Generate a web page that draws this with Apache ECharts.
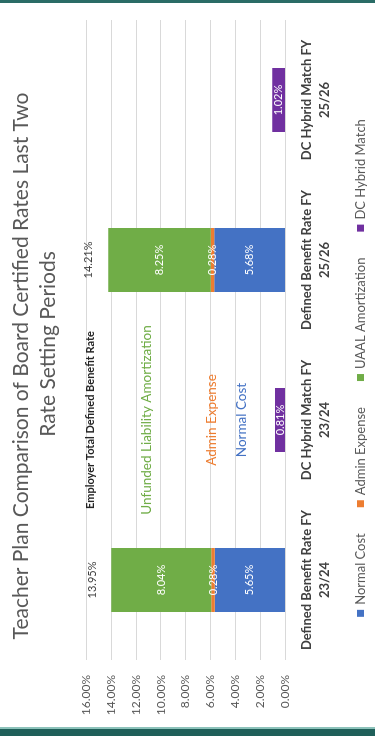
<!DOCTYPE html>
<html>
<head>
<meta charset="utf-8">
<script src="https://cdn.jsdelivr.net/npm/echarts@6/dist/echarts.min.js"></script>
<style>
  html, body { margin: 0; padding: 0; width: 375px; height: 736px; overflow: hidden; background: #ffffff; }
  #chart {
    position: absolute; left: 0; top: 0;
    width: 736px; height: 375px;
    transform-origin: 0 0;
    transform: translateY(736px) rotate(-90deg);
  }
  .band-top { position: absolute; left: 0; top: 0; width: 375px; height: 3px; background: #2a6c66; }
  .band-bottom-line { position: absolute; left: 0; top: 727px; width: 375px; height: 2px; background: #8cc2ba; }
  .band-bottom { position: absolute; left: 0; top: 729px; width: 375px; height: 7px; background: #1f5f59; }
</style>
</head>
<body>
<div id="chart"></div>
<div class="band-top"></div>
<div class="band-bottom-line"></div>
<div class="band-bottom"></div>
<script>
// Board certified employer contribution rates (percent of payroll)
const categories = [
  'Defined Benefit Rate FY\n23/24',
  'DC Hybrid Match FY\n23/24',
  'Defined Benefit Rate FY\n25/26',
  'DC Hybrid Match FY\n25/26'
];
const normalCost       = [5.65, null, 5.68, null];
const adminExpense     = [0.28, null, 0.28, null];
const uaalAmortization = [8.04, null, 8.25, null];
const dcHybridMatch    = [null, 0.81, null, 1.02];
const employerTotal    = [13.95, null, 14.21, null];

const seriesNames = ['Normal Cost', 'Admin Expense', 'UAAL Amortization', 'DC Hybrid Match'];
const titleLines = ['Teacher Plan Comparison of Board Certified Rates Last Two', 'Rate Setting Periods'];
const valueAxisMin = 0;
const valueAxisMax = 16;
const valueAxisStep = 2;

const FONT = 'Lato, "Open Sans", sans-serif';
const COLORS = ['#4472C4', '#ED7D31', '#70AD47', '#7030A0'];

const pct = v => (v == null ? '' : v.toFixed(2) + '%');

const chart = echarts.init(document.getElementById('chart'), null, { renderer: 'canvas' });

function stackSeries(name, data, color) {
  return {
    name: name,
    type: 'bar',
    stack: 'rate',
    barWidth: '40%',
    barGap: '-100%',
    data: data,
    itemStyle: { color: color },
    label: {
      show: true,
      position: 'inside',
      color: '#ffffff',
      fontFamily: FONT,
      fontSize: 11,
      formatter: p => pct(p.value)
    }
  };
}

chart.setOption({
  backgroundColor: '#ffffff',
  animation: false,
  color: COLORS,
  legend: {
    data: seriesNames,
    bottom: 3,
    left: 'center',
    itemWidth: 7,
    itemHeight: 7,
    itemGap: 26,
    icon: 'rect',
    textStyle: { fontFamily: FONT, fontSize: 13, color: '#595959' }
  },
  grid: { left: 76, right: 20, top: 86, bottom: 90, containLabel: false, outerBoundsMode: 'none' },
  xAxis: {
    type: 'category',
    data: categories,
    axisLine: { show: false },
    axisTick: { show: false },
    axisLabel: {
      interval: 0,
      margin: 13,
      fontFamily: FONT,
      fontSize: 13,
      fontWeight: 'bold',
      lineHeight: 18,
      color: '#404040'
    }
  },
  yAxis: {
    type: 'value',
    min: valueAxisMin,
    max: valueAxisMax,
    interval: valueAxisStep,
    axisLine: { show: false },
    axisTick: { show: false },
    splitLine: { lineStyle: { color: '#d9d9d9', width: 1 } },
    axisLabel: {
      margin: 15,
      fontFamily: FONT,
      fontSize: 12,
      color: '#595959',
      formatter: v => v.toFixed(2) + '%'
    }
  },
  series: [
    stackSeries(seriesNames[0], normalCost, COLORS[0]),
    stackSeries(seriesNames[1], adminExpense, COLORS[1]),
    stackSeries(seriesNames[2], uaalAmortization, COLORS[2]),
    stackSeries(seriesNames[3], dcHybridMatch, COLORS[3]),
    {
      name: 'Employer Total Defined Benefit Rate',
      type: 'bar',
      stack: 'total',
      barWidth: '40%',
      barGap: '-100%',
      data: employerTotal,
      itemStyle: { color: 'rgba(0,0,0,0)' },
      emphasis: { disabled: true },
      label: {
        show: true,
        position: 'top',
        distance: 14,
        color: '#404040',
        fontFamily: FONT,
        fontSize: 11,
        formatter: p => pct(p.value)
      }
    }
  ]
});

// Annotations placed against the middle (23/24 DC) column
const annotations = [
  { text: 'Employer Total Defined Benefit Rate', at: 15.67, color: '#262626', weight: 'bold', size: 11 },
  { text: 'Unfunded Liability Amortization', at: 11.1, color: COLORS[2], weight: 'normal', size: 13.5 },
  { text: 'Admin Expense', at: 5.87, color: COLORS[1], weight: 'normal', size: 13.5 },
  { text: 'Normal Cost', at: 3.45, color: COLORS[0], weight: 'normal', size: 13.5 }
];

const graphics = annotations.map(a => {
  const p = chart.convertToPixel({ xAxisIndex: 0, yAxisIndex: 0 }, [1, a.at]);
  return {
    type: 'text', x: p[0], y: p[1], silent: true,
    style: {
      text: a.text, fill: a.color, fontFamily: FONT, fontSize: a.size,
      fontWeight: a.weight, align: 'center', verticalAlign: 'middle'
    }
  };
});

// Two-line chart title
const titleLayout = [{ x: 370, y: 21 }, { x: 392, y: 48 }];
titleLines.forEach((line, i) => {
  graphics.push({
    type: 'text', x: titleLayout[i].x, y: titleLayout[i].y, silent: true,
    style: {
      text: line, fill: '#595959', fontFamily: FONT, fontSize: 21,
      align: 'center', verticalAlign: 'middle'
    }
  });
});

chart.setOption({ graphic: graphics });
</script>
</body>
</html>
